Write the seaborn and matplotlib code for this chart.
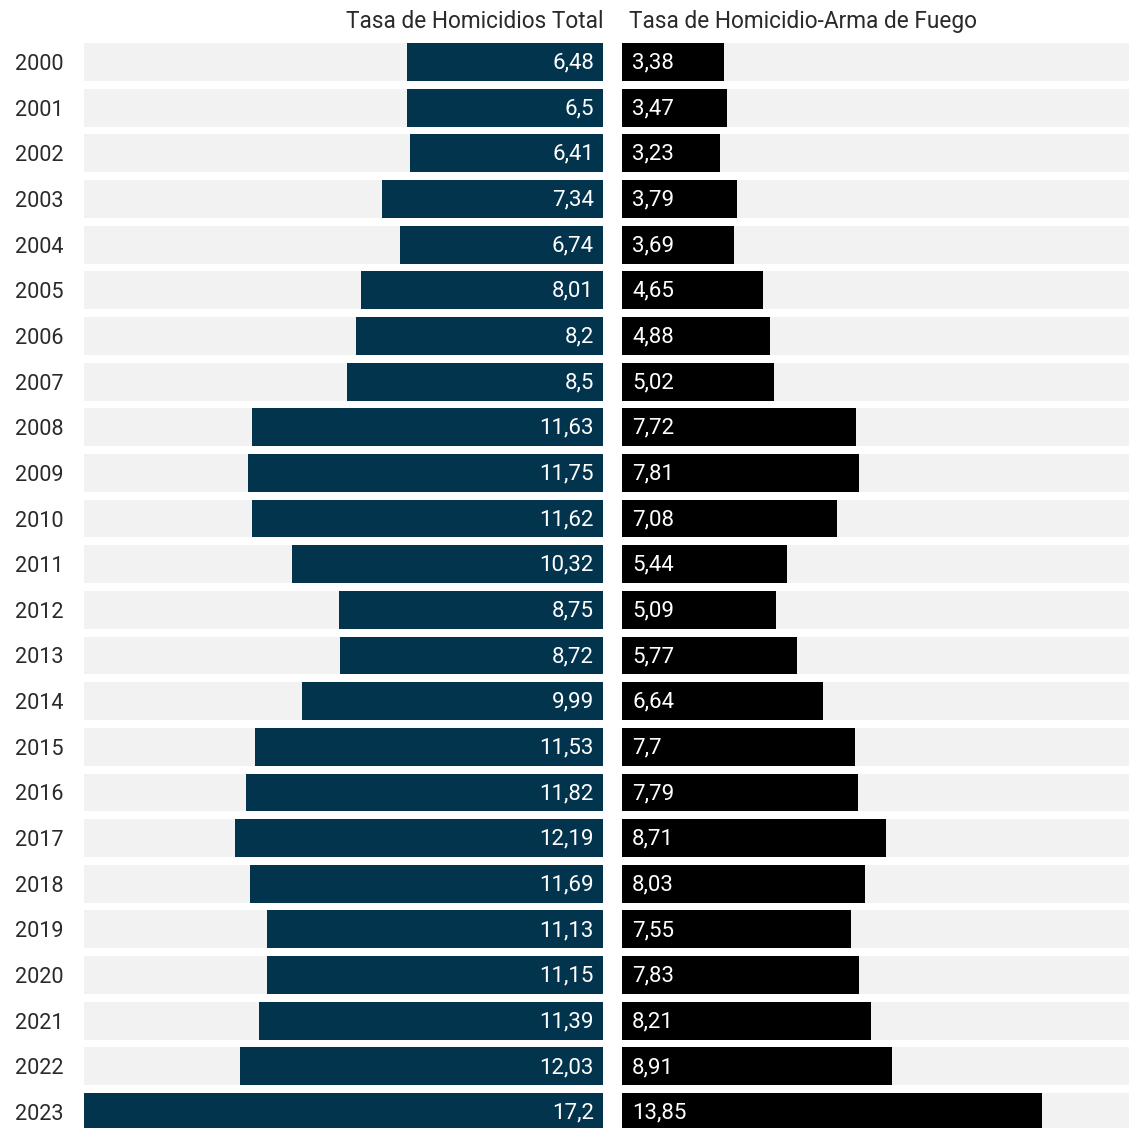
import pandas as pd
import matplotlib.pyplot as plt
import seaborn as sns

# data
years = [str(y) for y in range(2000, 2024)]
total = [6.48, 6.5, 6.41, 7.34, 6.74, 8.01, 8.2, 8.5, 11.63, 11.75, 11.62, 10.32,
         8.75, 8.72, 9.99, 11.53, 11.82, 12.19, 11.69, 11.13, 11.15, 11.39, 12.03, 17.2]
firearm = [3.38, 3.47, 3.23, 3.79, 3.69, 4.65, 4.88, 5.02, 7.72, 7.81, 7.08, 5.44,
           5.09, 5.77, 6.64, 7.7, 7.79, 8.71, 8.03, 7.55, 7.83, 8.21, 8.91, 13.85]
titles = ['Tasa de Homicidios Total', 'Tasa de Homicidio-Arma de Fuego']

df = pd.DataFrame({'year': years, 'total': total, 'firearm': firearm})
left_max = 17.2
right_max = 16.72
df['bg_left'] = left_max
df['bg_right'] = right_max

sns.set_style('white')
plt.rcParams['font.family'] = ['Roboto', 'DejaVu Sans']

fig = plt.figure(figsize=(11.29, 11.28), dpi=100)
W, H = 1129, 1128
ax1 = fig.add_axes([84 / W, 0, (603 - 84) / W, 1])
ax2 = fig.add_axes([622 / W, 0, (1129 - 622) / W, 1])

navy = '#03344d'
bg = '#f2f2f2'
bh = 0.83

# left panel: total rate, growing to the left
sns.barplot(data=df, x='bg_left', y='year', color=bg, width=bh, ax=ax1,
            orient='h', saturation=1, linewidth=0)
sns.barplot(data=df, x='total', y='year', color=navy, width=bh, ax=ax1,
            orient='h', saturation=1, linewidth=0)
ax1.set_xlim(left_max, 0)

# right panel: firearm rate
sns.barplot(data=df, x='bg_right', y='year', color=bg, width=bh, ax=ax2,
            orient='h', saturation=1, linewidth=0)
sns.barplot(data=df, x='firearm', y='year', color='black', width=bh, ax=ax2,
            orient='h', saturation=1, linewidth=0)
ax2.set_xlim(0, right_max)

y_top = -1.358
y_bot = 23.35
for ax in (ax1, ax2):
    ax.set_ylim(y_bot, y_top)
    ax.set_xlabel('')
    ax.set_ylabel('')
    ax.set_xticks([])
    sns.despine(ax=ax, left=True, bottom=True)
    ax.patch.set_alpha(0)

ax1.set_yticks(range(len(years)))
ax1.set_yticklabels(years, fontsize=15.6, color='#2a2a2a', va='center_baseline')
ax1.tick_params(axis='y', length=0, pad=15)
ax2.set_yticks([])

fmt = lambda v: f'{v:g}'.replace('.', ',')
for i, v in enumerate(total):
    ax1.text(0.3, i - 0.03, fmt(v), ha='right', va='center_baseline', color='white', fontsize=16)
for i, v in enumerate(firearm):
    ax2.text(0.33, i - 0.03, fmt(v), ha='left', va='center_baseline', color='white', fontsize=16)

ax1.text(0, -0.95, titles[0], ha='right', va='center_baseline', fontsize=16.3, color='#2a2a2a')
ax2.text(0.22, -0.95, titles[1], ha='left', va='center_baseline', fontsize=16.3, color='#2a2a2a')

fig.savefig('out.png', dpi=100)
